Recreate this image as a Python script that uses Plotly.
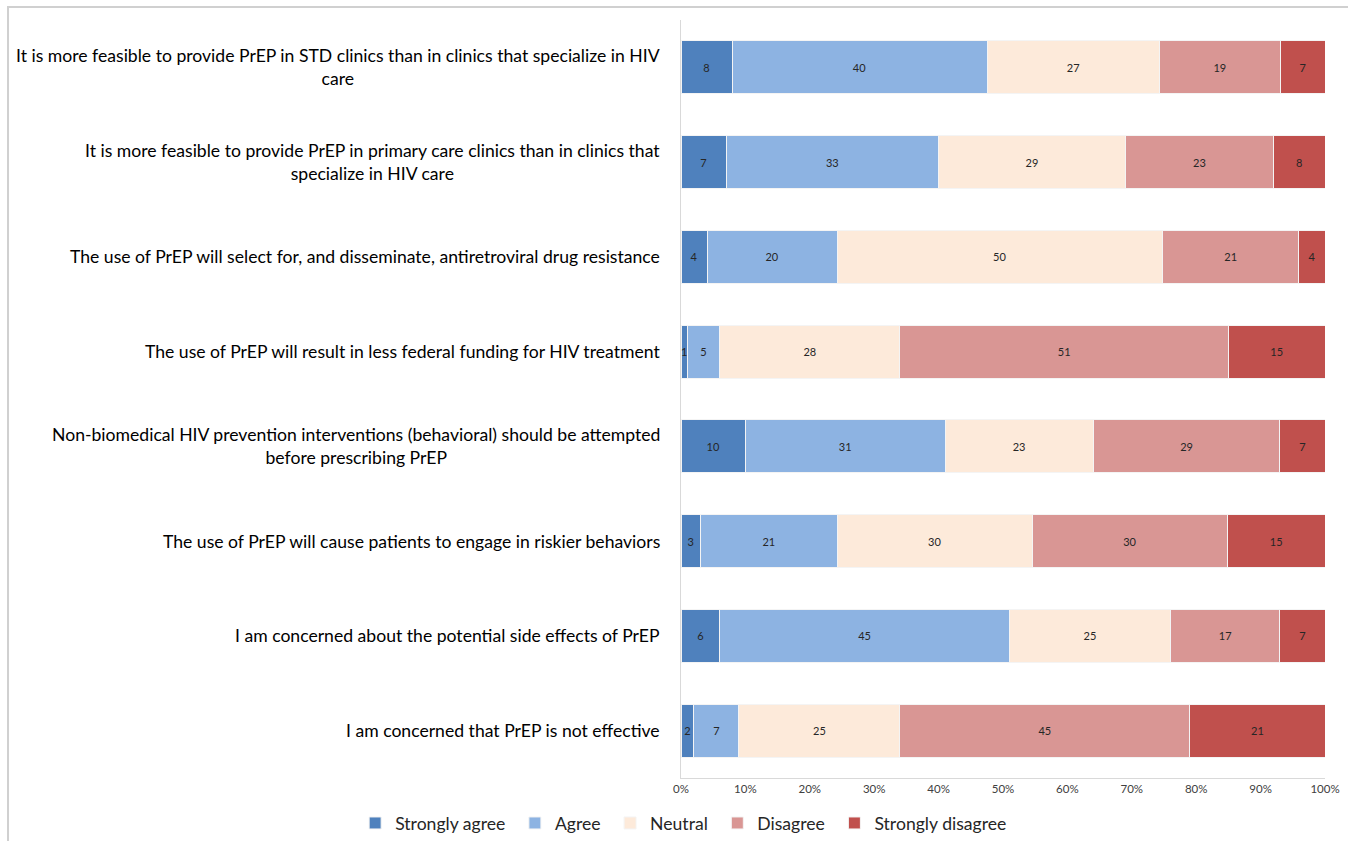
import plotly.graph_objects as go

statements = [
    "It is more feasible to provide PrEP in STD clinics than in clinics that specialize in HIV<br>care",
    "It is more feasible to provide PrEP in primary care clinics than in clinics that<br>specialize in HIV care",
    "The use of PrEP will select for, and disseminate, antiretroviral drug resistance",
    "The use of PrEP will result in less federal funding for HIV treatment",
    "Non-biomedical HIV prevention interventions (behavioral) should be attempted<br>before prescribing PrEP",
    "The use of PrEP will cause patients to engage in riskier behaviors",
    "I am concerned about the potential side effects of PrEP",
    "I am concerned that PrEP is not effective",
]

strongly_agree = [8, 7, 4, 1, 10, 3, 6, 2]
agree = [40, 33, 20, 5, 31, 21, 45, 7]
neutral = [27, 29, 50, 28, 23, 30, 25, 25]
disagree = [19, 23, 21, 51, 29, 30, 17, 45]
strongly_disagree = [7, 8, 4, 15, 7, 15, 7, 21]

series_names = ["Strongly agree", "Agree", "Neutral", "Disagree", "Strongly disagree"]
series_values = [strongly_agree, agree, neutral, disagree, strongly_disagree]
colors = ["#4F81BD", "#8DB3E2", "#FDEADA", "#D99694", "#C0504D"]

tick_vals = [0, 10, 20, 30, 40, 50, 60, 70, 80, 90, 100]
tick_text = [f"{v}%" for v in tick_vals]

FONT = "Lato"
NBSP = "\u00a0"

fig = go.Figure()
for i, (name, vals, col) in enumerate(zip(series_names, series_values, colors)):
    pad = NBSP if i < len(series_names) - 1 else ""
    fig.add_trace(go.Bar(
        y=statements, x=vals, name=name + pad, orientation="h",
        marker=dict(color=col, line=dict(color="#f4f4f4", width=1)),
        text=[str(v) for v in vals], textposition="inside",
        insidetextanchor="middle", textangle=0, constraintext="none",
        textfont=dict(family=FONT, size=11, color="#262626"),
    ))

for s in statements:
    fig.add_annotation(
        x=0, y=s, xref="paper", yref="y", xanchor="right", yanchor="middle",
        xshift=-19, text=s, showarrow=False, align="center",
        font=dict(family=FONT, size=17.6, color="#000000"),
    )

fig.add_shape(type="rect", xref="paper", yref="paper",
              x0=-1.045, x1=1.06, y0=-0.12, y1=1.0172,
              line=dict(color="#d0d0d0", width=2), fillcolor="rgba(0,0,0,0)")

fig.update_layout(
    barmode="stack", barnorm="percent", bargap=0.44,
    width=1348, height=841,
    margin=dict(l=681, r=23, t=20, b=63, autoexpand=False),
    paper_bgcolor="white", plot_bgcolor="white",
    font=dict(family=FONT, color="#262626"),
    uniformtext=dict(minsize=11, mode="show"),
    showlegend=True,
    legend=dict(orientation="h", xref="paper", yref="paper",
                x=-0.506, y=-0.0594, xanchor="left", yanchor="middle",
                font=dict(family=FONT, size=17.6, color="#262626"),
                itemwidth=30, traceorder="normal"),
    xaxis=dict(range=[0, 100], tickvals=tick_vals, ticktext=tick_text,
               showgrid=False, zeroline=False, showline=True, automargin=False,
               linecolor="#d9d9d9", linewidth=1, ticks="",
               tickfont=dict(family=FONT, size=11.5, color="#404040")),
    yaxis=dict(autorange="reversed", showticklabels=False, showgrid=False,
               automargin=False,
               showline=True, linecolor="#d9d9d9", linewidth=1, ticks=""),
)

fig.write_html("out.html")
